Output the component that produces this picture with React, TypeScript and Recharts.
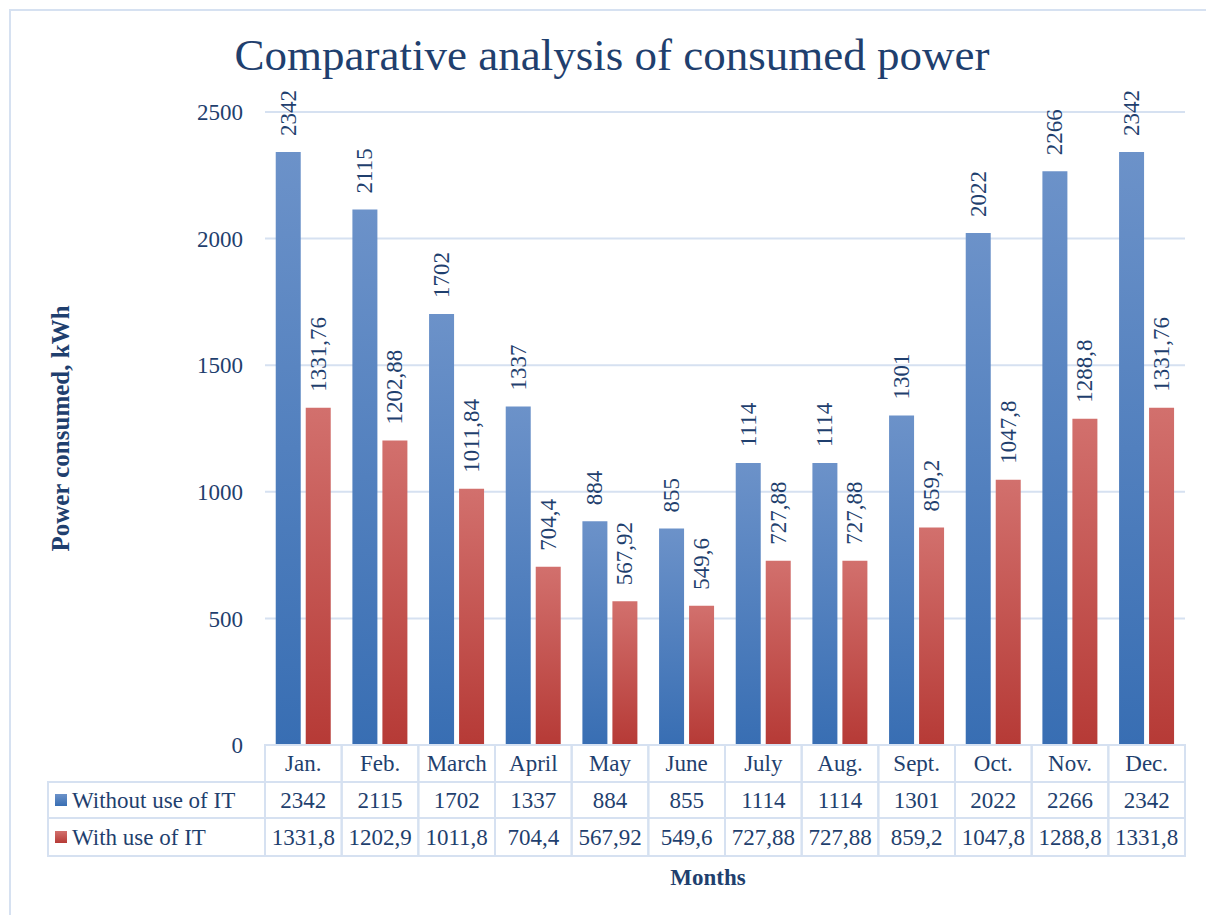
import React from 'react';
import { BarChart, Bar, XAxis, YAxis, CartesianGrid, LabelList } from 'recharts';

const months = ['Jan.', 'Feb.', 'March', 'April', 'May', 'June', 'July', 'Aug.', 'Sept.', 'Oct.', 'Nov.', 'Dec.'];
const withoutIT = [2342, 2115, 1702, 1337, 884, 855, 1114, 1114, 1301, 2022, 2266, 2342];
const withIT = [1331.76, 1202.88, 1011.84, 704.4, 567.92, 549.6, 727.88, 727.88, 859.2, 1047.8, 1288.8, 1331.76];
// the data table under the chart shows these rounded
const withITTable = ['1331,8', '1202,9', '1011,8', '704,4', '567,92', '549,6', '727,88', '727,88', '859,2', '1047,8', '1288,8', '1331,8'];
const yTicks = [0, 500, 1000, 1500, 2000, 2500];
const seriesNames = ['Without use of IT', 'With use of IT'];

const data = months.map((month, i) => ({ month, without: withoutIT[i], withIt: withIT[i] }));

const W = 1206;
const H = 915;
const PLOT_LEFT = 265;
const PLOT_RIGHT = 1185;
const PLOT_TOP = 112;
const AXIS_H = 170;
const FONT = '"Liberation Serif", "DejaVu Serif", serif';
const TEXT = '#1F3F6E';
const LINE = '#D6E1F1';

const ROW_TOPS = [0, 37, 73];
const ROW_BOTTOM = 111;
const LEGEND_LEFT = 48;

const fmt = (v: number) => String(v).replace('.', ',');

function RotatedLabel(props: any) {
  const { x, y, width, value } = props;
  const cx = x + width / 2;
  const ty = y - 16;
  return (
    <text
      x={cx}
      y={ty}
      transform={`rotate(-90, ${cx}, ${ty})`}
      textAnchor="start"
      dominantBaseline="central"
      fontFamily={FONT}
      fontSize={23}
      fill={TEXT}
    >
      {fmt(value)}
    </text>
  );
}

function TableTick(props: any) {
  const { x, y, payload } = props;
  const i = months.indexOf(payload.value);
  const bw = (PLOT_RIGHT - PLOT_LEFT) / months.length;
  const left = x - bw / 2;
  const cells = [payload.value, String(withoutIT[i]), withITTable[i]];
  return (
    <g>
      {cells.map((c, r) => {
        const top = y + ROW_TOPS[r];
        const bottom = y + (r < 2 ? ROW_TOPS[r + 1] : ROW_BOTTOM);
        return (
          <g key={r}>
            <rect x={left} y={top} width={bw} height={bottom - top} fill="none" stroke={LINE} strokeWidth={2} />
            <text
              x={x}
              y={(top + bottom) / 2}
              textAnchor="middle"
              dominantBaseline="central"
              fontFamily={FONT}
              fontSize={23}
              fill={TEXT}
            >
              {c}
            </text>
          </g>
        );
      })}
      {i === 0 &&
        seriesNames.map((name, r) => {
          const top = y + ROW_TOPS[r + 1];
          const bottom = y + (r === 0 ? ROW_TOPS[2] : ROW_BOTTOM);
          const mid = (top + bottom) / 2;
          return (
            <g key={name}>
              <rect x={LEGEND_LEFT} y={top} width={left - LEGEND_LEFT} height={bottom - top} fill="none" stroke={LINE} strokeWidth={2} />
              <rect x={55} y={mid - 6} width={12} height={12} fill={r === 0 ? 'url(#gradBlue)' : 'url(#gradRed)'} />
              <text x={72} y={mid} dominantBaseline="central" fontFamily={FONT} fontSize={23} fill={TEXT}>
                {name}
              </text>
            </g>
          );
        })}
    </g>
  );
}

export default function App() {
  return (
    <div style={{ position: 'absolute', left: 0, top: 0, width: W, height: H, background: '#fff', overflow: 'hidden' }}>
      <svg width={W} height={H} style={{ position: 'absolute', left: 0, top: 0 }}>
        <rect x={10} y={10} width={W + 20} height={H + 20} fill="none" stroke={LINE} strokeWidth={2} />
        <text x={612} y={70} textAnchor="middle" fontFamily={FONT} fontSize={45} fill={TEXT}>
          Comparative analysis of consumed power
        </text>
      </svg>
      <div style={{ position: 'absolute', left: 0, top: 0 }}>
        <BarChart
          width={W}
          height={H}
          data={data}
          margin={{ top: PLOT_TOP, right: W - PLOT_RIGHT, bottom: 0, left: 0 }}
          barCategoryGap="14%"
          barGap={5}
        >
          <defs>
            <linearGradient id="gradBlue" x1="0" y1="0" x2="0" y2="1">
              <stop offset="0%" stopColor="#6C92C9" />
              <stop offset="100%" stopColor="#386EB3" />
            </linearGradient>
            <linearGradient id="gradRed" x1="0" y1="0" x2="0" y2="1">
              <stop offset="0%" stopColor="#D2706D" />
              <stop offset="100%" stopColor="#B63A36" />
            </linearGradient>
          </defs>
          <CartesianGrid vertical={false} stroke={LINE} strokeWidth={2} />
          <XAxis
            dataKey="month"
            height={AXIS_H}
            interval={0}
            axisLine={false}
            tickLine={false}
            tickSize={0}
            tickMargin={0}
            tick={<TableTick />}
            label={{
              value: 'Months',
              position: 'insideBottom',
              offset: 30,
              dx: -17,
              style: { fontFamily: FONT, fontSize: 23, fontWeight: 'bold', fill: TEXT },
            }}
          />
          <YAxis
            width={PLOT_LEFT}
            domain={[0, 2500]}
            ticks={yTicks}
            interval={0}
            axisLine={false}
            tickLine={false}
            tickSize={0}
            tickMargin={22}
            tick={{ fontFamily: FONT, fontSize: 23, fill: TEXT }}
            label={{
              value: 'Power  consumed, kWh',
              angle: -90,
              position: 'insideLeft',
              offset: 60,
              style: { fontFamily: FONT, fontSize: 25, fontWeight: 'bold', fill: TEXT, textAnchor: 'middle', whiteSpace: 'pre' },
            }}
          />
          <Bar dataKey="without" name={seriesNames[0]} fill="url(#gradBlue)" isAnimationActive={false}>
            <LabelList dataKey="without" content={<RotatedLabel />} />
          </Bar>
          <Bar dataKey="withIt" name={seriesNames[1]} fill="url(#gradRed)" isAnimationActive={false}>
            <LabelList dataKey="withIt" content={<RotatedLabel />} />
          </Bar>
        </BarChart>
      </div>
    </div>
  );
}
